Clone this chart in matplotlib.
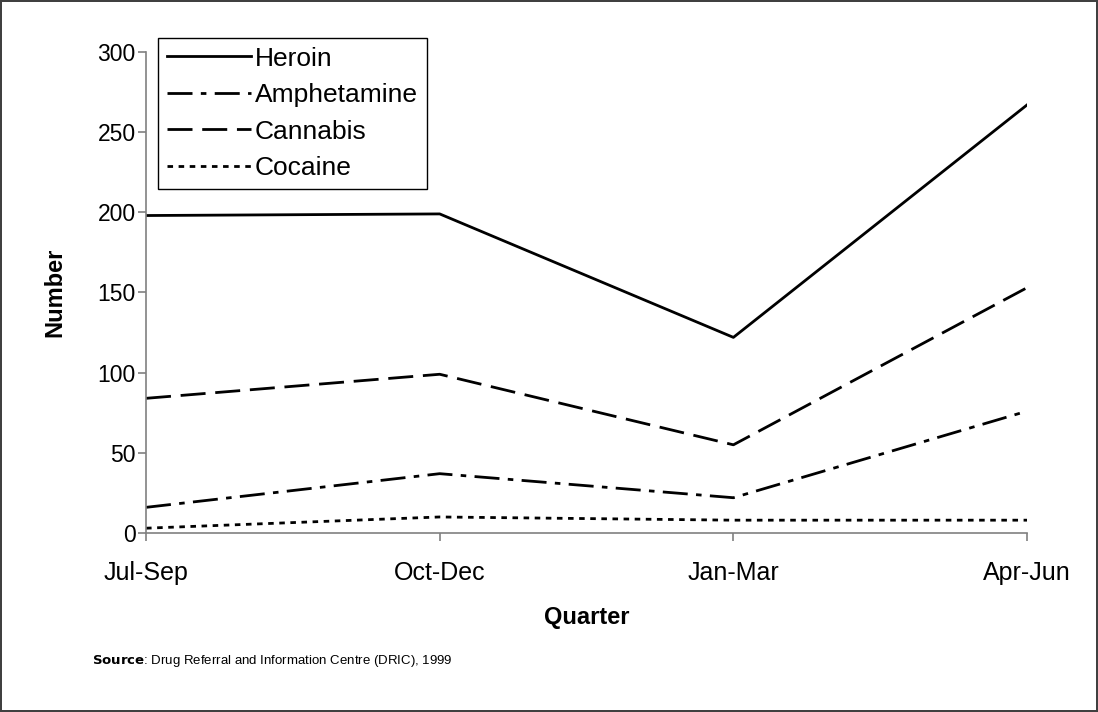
import matplotlib
matplotlib.use("Agg")
import matplotlib.pyplot as plt

plt.rcParams['font.family'] = ['Liberation Sans', 'DejaVu Sans']

# data
quarters = ["Jul-Sep", "Oct-Dec", "Jan-Mar", "Apr-Jun"]
heroin = [198, 199, 122, 267]
amphetamine = [16, 37, 22, 76]
cannabis = [84, 99, 55, 153]
cocaine = [3, 10, 8, 8]

series = [
    ("Heroin", heroin, "-"),
    ("Amphetamine", amphetamine, (0, (9, 3, 2, 3))),
    ("Cannabis", cannabis, (0, (9, 3.5))),
    ("Cocaine", cocaine, (0, (2, 2))),
]

fig = plt.figure(figsize=(10.98, 7.12), dpi=100, edgecolor="#404040", linewidth=1.5)
ax = fig.add_axes([0.133, 0.2514, 0.8024, 0.6756])

x = range(len(quarters))
for name, vals, ls in series:
    ax.plot(x, vals, color="black", linestyle=ls, linewidth=2.0, label=name)

ax.set_xlim(0, len(quarters) - 1)
ax.set_ylim(0, 300)
ax.set_yticks(range(0, 301, 50))
ax.set_xticks(list(x))
ax.set_xticklabels(quarters)

for side in ("top", "right"):
    ax.spines[side].set_visible(False)
for side in ("left", "bottom"):
    ax.spines[side].set_color("#808080")
    ax.spines[side].set_linewidth(1.2)
ax.tick_params(axis="both", colors="#808080", labelcolor="black",
               length=6, width=1.2)
ax.tick_params(axis="x", labelsize=18, pad=14)
ax.tick_params(axis="y", labelsize=16.5, pad=1.5)

ax.set_xlabel("Quarter", fontsize=17, fontweight="bold", labelpad=15)
ax.set_ylabel("Number", fontsize=17, fontweight="bold", labelpad=22)

leg = ax.legend(loc="upper left", bbox_to_anchor=(158 / 1098, 1 - 38 / 712),
                bbox_transform=fig.transFigure, prop={"size": 19}, frameon=True,
                fancybox=False, edgecolor="black", framealpha=1,
                handlelength=3.2, handletextpad=0.15, labelspacing=0.47,
                borderpad=0.33, borderaxespad=0)
leg.get_frame().set_linewidth(1.0)

fig.text(92 / 1098, 1 - 661 / 712, r"$\bf{Source}$: Drug Referral and Information Centre (DRIC), 1999",
         fontsize=9.5, va="center", ha="left")

fig.savefig("out.png", dpi=100)
